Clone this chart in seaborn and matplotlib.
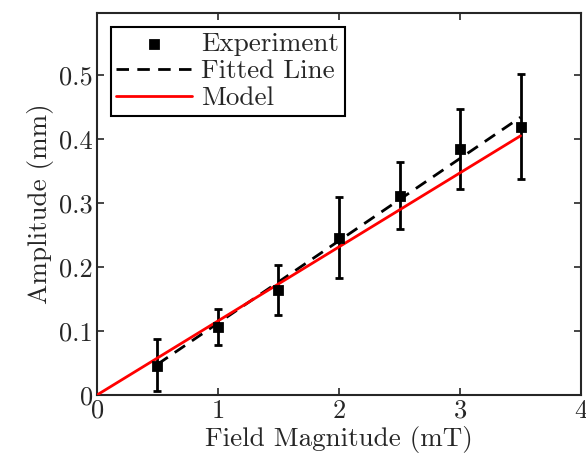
import matplotlib
matplotlib.use("Agg")
import matplotlib.pyplot as plt
import seaborn as sns
import pandas as pd
import numpy as np

# ---- data ----
field = [0.5, 1.0, 1.5, 2.0, 2.5, 3.0, 3.5]
amplitude = [0.046, 0.106, 0.164, 0.246, 0.311, 0.384, 0.419]
err_low = [0.006, 0.078, 0.125, 0.183, 0.259, 0.322, 0.338]
err_high = [0.087, 0.134, 0.203, 0.309, 0.364, 0.447, 0.502]

fit_x = [0.5, 3.5]
fit_y = [0.048, 0.434]
model_x = [0.0, 3.5]
model_y = [0.0, 0.405]

sns.set_style("ticks")
plt.rcParams["font.family"] = ["serif"]
plt.rcParams["font.serif"] = ["cmr10", "DejaVu Serif"]
plt.rcParams["mathtext.fontset"] = "cm"
plt.rcParams["axes.formatter.use_mathtext"] = True

fig = plt.figure(figsize=(5.86, 4.57), dpi=100)
ax = fig.add_axes([0.1655, 0.1357, 0.8260, 0.8359])

exp_df = pd.DataFrame({"field": field, "amp": amplitude})
lo = np.array(amplitude) - np.array(err_low)
hi = np.array(err_high) - np.array(amplitude)
ax.errorbar(field, amplitude, yerr=[lo, hi], fmt="none", ecolor="black",
            elinewidth=2, capsize=3, capthick=2, zorder=2)

sns.lineplot(x=fit_x, y=fit_y, ax=ax, color="black", linestyle=(0, (4.5, 3)),
             linewidth=2, label="Fitted Line", zorder=3)
sns.lineplot(x=model_x, y=model_y, ax=ax, color="red", linewidth=2,
             label="Model", zorder=3)
sns.scatterplot(data=exp_df, x="field", y="amp", ax=ax, marker="s", s=50,
                color="black", edgecolor="black", label="Experiment", zorder=4)

ax.set_xlim(0, 4)
ax.set_ylim(0, 0.597)
ax.set_xticks([0, 1, 2, 3, 4])
ax.set_yticks([0, 0.1, 0.2, 0.3, 0.4, 0.5])
ax.set_yticklabels(["0", "0.1", "0.2", "0.3", "0.4", "0.5"])
ax.tick_params(direction="in", top=True, right=True, labelsize=19, length=5,
               width=1.2, pad=3)
for s in ax.spines.values():
    s.set_linewidth(1.5)
ax.set_xlabel("Field Magnitude (mT)", fontsize=19.5, labelpad=2)
ax.set_ylabel("Amplitude (mm)", fontsize=19.5, labelpad=4)

handles, labels = ax.get_legend_handles_labels()
order = [labels.index(n) for n in ["Experiment", "Fitted Line", "Model"]]
leg = ax.legend([handles[i] for i in order], [labels[i] for i in order],
                loc="upper left", fontsize=19.5, frameon=True, fancybox=False,
                edgecolor="black", framealpha=1, handlelength=2.8,
                borderpad=0.2, labelspacing=0.12, handletextpad=0.35,
                bbox_to_anchor=(0.0, 1.0), borderaxespad=0.5)
leg.get_frame().set_linewidth(1.5)

plt.savefig("out.png", dpi=100)
plt.close()
